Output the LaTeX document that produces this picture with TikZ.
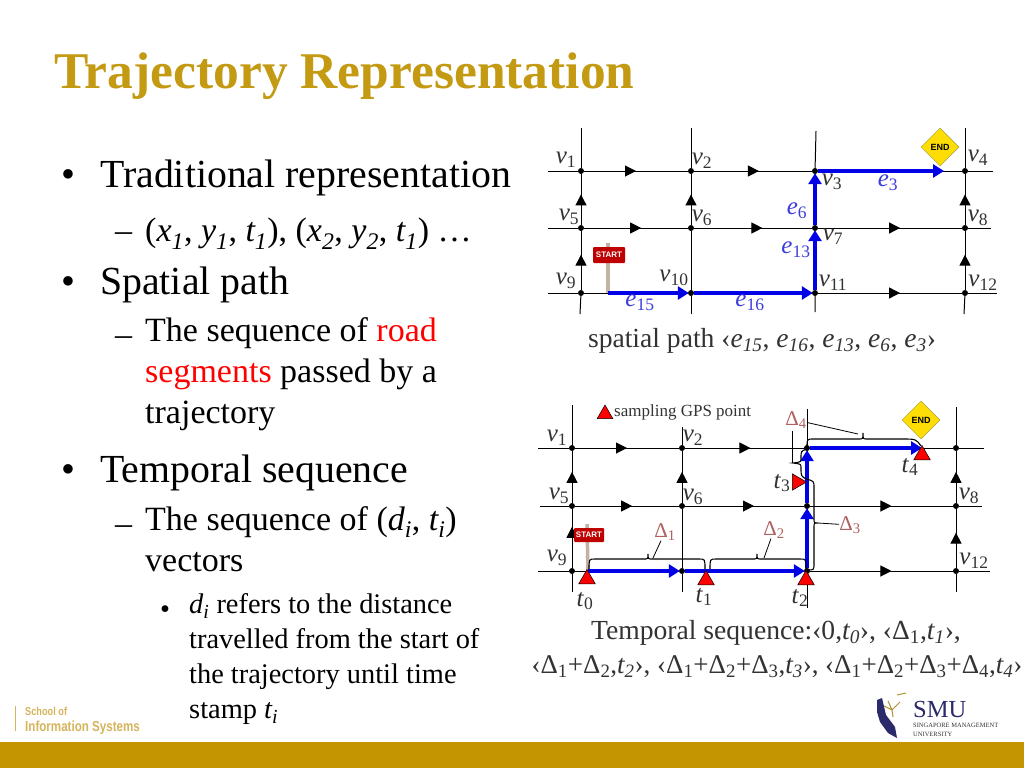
\documentclass[tikz,border=0pt]{standalone}
\usepackage{fontspec}
\setmainfont{Liberation Serif}
\newfontfamily\logofont{Liberation Sans}
\newfontfamily\narrowfont[FakeStretch=0.8]{Liberation Sans}
\usetikzlibrary{arrows.meta,decorations.markings,shapes.geometric}
\definecolor{smugold}{HTML}{C49500}
\definecolor{titlegold}{HTML}{C39A12}
\definecolor{logogold}{HTML}{D6B45C}
\definecolor{pathblue}{HTML}{0000E6}
\definecolor{edgeblue}{HTML}{3C3CDC}
\definecolor{deltared}{HTML}{B0605F}
\definecolor{labelgray}{HTML}{333333}
\definecolor{smublue}{HTML}{2B2A6B}
\newcommand{\vlab}[2]{\textit{#1}\textsubscript{#2}}
\newcommand{\txtsize}[2]{\fontsize{#1}{#2}\selectfont}
% horizontal curly bracket: x start, x tip, x end, y ends, y body, y tip
\newcommand{\hbracket}[6]{\draw[bracket] (#1,#4) .. controls (#1,#5) .. ({#1+6},#5) -- ({#2-4},#5) .. controls (#2,#5) .. (#2,#6) .. controls (#2,#5) .. ({#2+4},#5) -- ({#3-6},#5) .. controls (#3,#5) .. (#3,#4);}
\tikzset{
    junc/.style={circle, fill=black, inner sep=0pt, minimum size=6pt},
    road/.style={draw=black, line width=1pt},
    midarrow/.style={postaction={decorate}, decoration={markings, mark=at position #1 with {\arrow{Triangle[length=11pt,width=11pt]}}}},
    bluepath/.style={draw=pathblue, line width=3.4pt, -{Triangle[length=11pt,width=13pt]}, shorten >=-1pt},
    vlabel/.style={font=\txtsize{25}{25}, text=labelgray, inner sep=0pt},
    elabel/.style={font=\txtsize{25}{25}, text=edgeblue, inner sep=0pt},
    dlabel/.style={font=\txtsize{21}{21}, text=deltared, inner sep=0pt},
    gps/.style={regular polygon, regular polygon sides=3, fill=red, draw=black, line width=0.5pt, inner sep=0pt, minimum size=19pt},
    bracket/.style={draw=black, line width=1.1pt},
    leader/.style={draw=black, line width=0.8pt},
    startboard/.style={fill=red!75!black, text=white, font=\logofont\bfseries\txtsize{8}{8}, rounded corners=1pt, inner sep=1pt},
    endsign/.style={diamond, fill=yellow!80!orange, draw=yellow!60!black, line width=0.5pt, inner sep=0pt, minimum size=38pt, font=\logofont\bfseries\txtsize{9}{9}},
    level1/.style={anchor=north west, inner sep=0pt, align=left, font=\txtsize{39.8}{41}, execute at begin node=\strut},
    level2/.style={anchor=north west, inner sep=0pt, align=left, font=\txtsize{34}{41}, execute at begin node=\strut},
    level3/.style={anchor=north west, inner sep=0pt, align=left, font=\txtsize{28.4}{35}, execute at begin node=\strut},
    caption/.style={inner sep=0pt, text=labelgray, font=\txtsize{27.6}{27.6}},
}
\begin{document}
\begin{tikzpicture}[x=1pt, y=-1pt]
    \useasboundingbox (0,0) rectangle (1024,768);
    \fill[white] (0,0) rectangle (1024,768);
    % === Title and bar ===
    \node[anchor=base west, inner sep=0pt, text=titlegold, font=\bfseries\txtsize{51.5}{52}] (title) at (54,88) {Trajectory Representation};
    \fill[smugold] (0,742) rectangle (1024,768);

    % === Bullets ===
    \node[level1] (b1) at (61,159) {•};
    \node[level1] (t1) at (100,159) {Traditional representation};
    \node[level2] (d1) at (115,213) {–};
    \node[level2] (t2) at (145,213) {(\textit{x\textsubscript{1}}, \textit{y\textsubscript{1}}, \textit{t\textsubscript{1}}), (\textit{x\textsubscript{2}}, \textit{y\textsubscript{2}}, \textit{t\textsubscript{1}}) …};
    \node[level1] (b2) at (61,266) {•};
    \node[level1] (t3) at (100,266) {Spatial path};
    \node[level2] (d2) at (115,317) {–};
    \node[level2] (t4) at (145,317) {The sequence of \textcolor{red}{road}\\\textcolor{red}{segments} passed by a\\trajectory};
    \node[level1] (b3) at (61,454) {•};
    \node[level1] (t5) at (100,454) {Temporal sequence};
    \node[level2] (d3) at (115,506) {–};
    \node[level2] (t6) at (145,506) {The sequence of (\textit{d\textsubscript{i}}, \textit{t\textsubscript{i}})\\vectors};
    \node[level3] (b4) at (160,593.5) {•};
    \node[level3] (t7) at (189,593.5) {\textit{d\textsubscript{i}} refers to the distance\\travelled from the start of\\the trajectory until time\\stamp \textit{t\textsubscript{i}}};

    % === Spatial path ===
    \foreach \n/\x/\y in {v1/581/171, v2/691/171, v3/815/171, v4/965/171,
                          v5/581/228, v6/691/228, v7/815/228, v8/965/228,
                          v9/581/293, v10/691/293, v11/815/293, v12/965/293}
        \node[junc] (\n) at (\x,\y) {};
    % free ends
    \coordinate (r1w) at (548,171); \coordinate (r1e) at (993,171);
    \coordinate (r2w) at (548,228); \coordinate (r2e) at (991,228);
    \coordinate (r3w) at (548,293); \coordinate (r3e) at (997,293);
    \coordinate (c1n) at (581,128); \coordinate (c1s) at (580,314);
    \coordinate (c2n) at (691,128); \coordinate (c2s) at (691,314);
    \coordinate (c3n) at (816,131); \coordinate (c3s) at (815,312);
    \coordinate (c4n) at (965,128); \coordinate (c4s) at (964,314);
    % roads
    \draw[road] (r1w) -- (v1);
    \draw[road, midarrow=0.5] (v1) -- (v2);
    \draw[road, midarrow=0.55] (v2) -- (v3);
    \draw[road] (v3) -- (v4) -- (r1e);
    \draw[road] (r2w) -- (v5);
    \draw[road, midarrow=0.55] (v5) -- (v6);
    \draw[road, midarrow=0.58] (v6) -- (v7);
    \draw[road, midarrow=0.57] (v7) -- (v8);
    \draw[road] (v8) -- (r2e);
    \draw[road] (r3w) -- (v9) -- (v10) -- (v11);
    \draw[road, midarrow=0.57] (v11) -- (v12);
    \draw[road] (v12) -- (r3e);
    \draw[road] (c1s) -- (v9);
    \draw[road, midarrow=0.6] (v9) -- (v5);
    \draw[road, midarrow=0.6] (v5) -- (v1);
    \draw[road] (v1) -- (c1n);
    \draw[road] (c2s) -- (v10) -- (v6);
    \draw[road, midarrow=0.6] (v6) -- (v2);
    \draw[road] (v2) -- (c2n);
    \draw[road] (c3s) -- (v11) -- (v7) -- (v3) -- (c3n);
    \draw[road] (c4s) -- (v12);
    \draw[road, midarrow=0.6] (v12) -- (v8);
    \draw[road, midarrow=0.6] (v8) -- (v4);
    \draw[road] (v4) -- (c4n);
    % signs
    \coordinate (spole) at (608,243);
    \coordinate (sfoot) at (608,293);
    \coordinate (send) at (943,171);
    \draw[draw=gray!60!brown!60, line width=3.5pt] (spole) -- (sfoot);
    \node[startboard, minimum width=32pt, minimum height=16pt] (sstart) at (609,255) {START};
    \node[endsign] (send1) at (940,147) {END};
    % path
    \draw[bluepath] (sfoot) -- (v10);
    \draw[bluepath] (v10) -- (v11);
    \draw[bluepath] (v11) -- (v7);
    \draw[bluepath] (v7) -- (v3);
    \draw[bluepath] (v3) -- (send);
    % labels
    \foreach \n/\i/\x/\y in {1/1/566/160, 2/2/702/161, 3/3/832/182, 4/4/978/158,
                             5/5/569/217, 6/6/702/218, 7/7/833/237, 8/8/978/218,
                             9/9/566/281, 10/10/674/278, 11/11/833/283, 12/12/983/283}
        \node[vlabel] (lv\n) at (\x,\y) {\vlab{v}{\i}};
    \foreach \n/\x/\y in {3/888/183, 6/797/211, 13/796/250, 15/640/303, 16/750/303}
        \node[elabel] (le\n) at (\x,\y) {\vlab{e}{\n}};
    \node[caption] (spcap) at (762,341) {spatial path ‹\textit{e\textsubscript{15}}, \textit{e\textsubscript{16}}, \textit{e\textsubscript{13}}, \textit{e\textsubscript{6}}, \textit{e\textsubscript{3}}›};

    % === Temporal sequence ===
    \foreach \n/\x/\y in {u1/572/448, u2/682/448, u3/807/448, u4/956/448,
                          u5/572/506, u6/682/506, u7/807/506, u8/956/506,
                          u9/572/571, u10/682/571, u11/807/571, u12/956/571}
        \node[junc] (\n) at (\x,\y) {};
    % free ends
    \coordinate (q1w) at (538,448); \coordinate (q1e) at (984,448);
    \coordinate (q2w) at (540,506); \coordinate (q2e) at (982,506);
    \coordinate (q3w) at (538,571); \coordinate (q3e) at (990,571);
    \coordinate (k1n) at (572,405); \coordinate (k1s) at (572,592);
    \coordinate (k2n) at (682,427); \coordinate (k2s) at (682,592);
    \coordinate (k3n) at (807,409); \coordinate (k3s) at (807,608);
    \coordinate (k4n) at (956,407); \coordinate (k4s) at (956,592);
    % roads
    \draw[road] (q1w) -- (u1);
    \draw[road, midarrow=0.5] (u1) -- (u2);
    \draw[road, midarrow=0.55] (u2) -- (u3);
    \draw[road] (u3) -- (u4) -- (q1e);
    \draw[road] (q2w) -- (u5);
    \draw[road, midarrow=0.55] (u5) -- (u6);
    \draw[road, midarrow=0.58] (u6) -- (u7);
    \draw[road, midarrow=0.57] (u7) -- (u8);
    \draw[road] (u8) -- (q2e);
    \draw[road] (q3w) -- (u9) -- (u10) -- (u11);
    \draw[road, midarrow=0.57] (u11) -- (u12);
    \draw[road] (u12) -- (q3e);
    \draw[road] (k1s) -- (u9);
    \draw[road, midarrow=0.7] (u9) -- (u5);
    \draw[road, midarrow=0.6] (u5) -- (u1);
    \draw[road] (u1) -- (k1n);
    \draw[road] (k2s) -- (u10) -- (u6);
    \draw[road, midarrow=0.6] (u6) -- (u2);
    \draw[road] (u2) -- (k2n);
    \draw[road] (k3s) -- (u11) -- (u7) -- (u3) -- (k3n);
    \draw[road] (k4s) -- (u12);
    \draw[road, midarrow=0.6] (u12) -- (u8);
    \draw[road, midarrow=0.6] (u8) -- (u4);
    \draw[road] (u4) -- (k4n);
    % signs
    \coordinate (upole) at (587,524);
    \coordinate (ufoot) at (588,571);
    \coordinate (uend) at (921,448);
    \draw[draw=gray!60!brown!60, line width=3.5pt] (upole) -- (ufoot);
    \node[startboard, minimum width=30pt, minimum height=14pt] (ustart) at (589,535) {START};
    \node[endsign] (uend1) at (921,420) {END};
    % path
    \draw[bluepath] (ufoot) -- (u10);
    \draw[bluepath] (u10) -- (u11);
    \draw[bluepath] (u11) -- (u7);
    \draw[bluepath] (u7) -- (u3);
    \draw[bluepath] (u3) -- (uend);
    % brackets
    \hbracket{589}{648}{705}{569}{559}{554}
    \hbracket{710}{757}{806}{569}{559}{554}
    \draw[bracket] (807,447) .. controls (807,439) .. (814,439) -- (859,439) .. controls (863,439) .. (863,433) .. controls (863,439) .. (867,439) -- (902,439) .. controls (916,439) .. (921,446);
    \draw[bracket] (808,570) .. controls (814,570) .. (814,563) -- (814,527) .. controls (814,523) .. (818,523) .. controls (814,523) .. (814,519) -- (814,488) .. controls (814,481) .. (806,479) .. controls (801,476) .. (801,468) .. controls (801,464) .. (793,463) .. controls (801,462) .. (801,458) .. controls (801,451) .. (807,449);
    % leaders
    \coordinate (l1a) at (653,558); \coordinate (l2a) at (764,558);
    \coordinate (l3a) at (818,523); \coordinate (l4a) at (858,434);
    \coordinate (l5a) at (792,431); \coordinate (l5b) at (792,463);
    \draw[leader] (l5a) -- (l5b);
    % GPS points
    \node[gps] (p0) at (587,579) {};
    \node[gps] (p1) at (706,580) {};
    \node[gps] (p2) at (806,580) {};
    \node[gps, shape border rotate=-90] (p3) at (797,482) {};
    \node[gps] (p4) at (922,455) {};
    \node[gps, minimum size=18pt] (pleg) at (605,414) {};
    \node[anchor=west, inner sep=0pt, text=labelgray, font=\txtsize{17}{17}] (legtxt) at (614,412) {sampling GPS point};
    % labels
    \foreach \n/\i/\x/\y in {1/1/557/438, 2/2/693/438, 5/5/559/496, 6/6/693/497, 8/8/969/496, 9/9/557/558, 12/12/974/561}
        \node[vlabel] (lu\n) at (\x,\y) {\vlab{v}{\i}};
    \foreach \n/\x/\y in {0/585/601, 1/704/597, 2/800/598, 3/782/483, 4/910/467}
        \node[vlabel] (lt\n) at (\x,\y) {\vlab{t}{\n}};
    \foreach \n/\x/\y in {1/665/532, 2/774/530, 3/850/525, 4/796/420}
        \node[dlabel] (dl\n) at (\x,\y) {Δ\textsubscript{\n}};
    \draw[leader] (l1a) -- (dl1);
    \draw[leader] (l2a) -- (dl2);
    \draw[leader] (l3a) -- (dl3);
    \draw[leader] (l4a) -- (dl4);
    \node[caption] (tscap1) at (776,633) {Temporal sequence:‹0,\textit{t\textsubscript{0}}›, ‹Δ\textsubscript{1},\textit{t\textsubscript{1}}›,};
    \node[caption, font=\txtsize{27}{27}] (tscap2) at (777,667) {‹Δ\textsubscript{1}+Δ\textsubscript{2},\textit{t\textsubscript{2}}›, ‹Δ\textsubscript{1}+Δ\textsubscript{2}+Δ\textsubscript{3},\textit{t\textsubscript{3}}›, ‹Δ\textsubscript{1}+Δ\textsubscript{2}+Δ\textsubscript{3}+Δ\textsubscript{4},\textit{t\textsubscript{4}}›};

    % === Logos ===
    \draw[logogold, line width=0.6pt] (15,706) -- (15,731);
    \node[anchor=base west, inner sep=0pt, text=logogold, font=\narrowfont\bfseries\txtsize{11.5}{12}] (sch1) at (25,715) {School of};
    \node[anchor=base west, inner sep=0pt, text=logogold, font=\narrowfont\bfseries\txtsize{14.5}{15}] (sch2) at (25,731) {Information Systems};
    \fill[smublue] (877,700) -- (882,698) -- (886,715) -- (895,727) -- (897,738) -- (888,733) -- (880,722) -- (877,712) -- cycle;
    \draw[titlegold!70!gray, line width=1pt] (888,701) -- (892,710) -- (900,702) (884,706) -- (892,710) -- (893,717) (897,695) -- (906,693);
    \node[anchor=base west, inner sep=0pt, text=smublue, font=\txtsize{24.5}{25}] (smu) at (913,717) {SMU};
    \node[anchor=north west, inner sep=0pt, align=left, text=labelgray, font=\txtsize{6.5}{9}] (smu2) at (913,723) {SINGAPORE MANAGEMENT\\UNIVERSITY};
\end{tikzpicture}
\end{document}
